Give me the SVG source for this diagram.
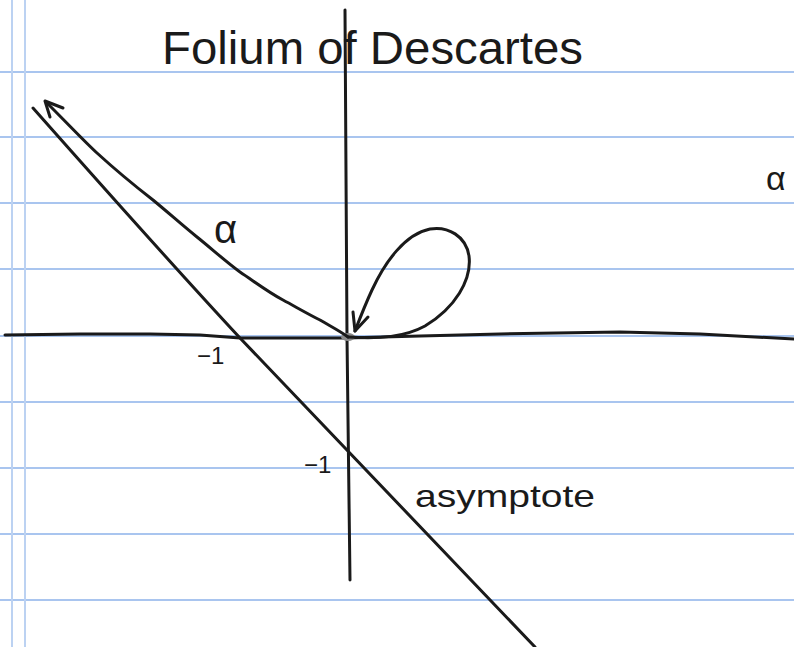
<svg xmlns="http://www.w3.org/2000/svg" width="794" height="647" viewBox="0 0 794 647">
<style>
.rule{stroke:#a9c5ef;stroke-width:2;fill:none}
.margin{stroke:#bcd2f2;stroke-width:2;fill:none}
.ink{stroke:#1a1a1a;stroke-width:3;fill:none;stroke-linecap:round;stroke-linejoin:round}
.txt{font-family:"Liberation Sans",Arial,sans-serif;fill:#1a1a1a}
</style>
<rect width="794" height="647" fill="#ffffff"/>
<g id="paper">
<line class="rule" x1="0" y1="72" x2="794" y2="72"/>
<line class="rule" x1="0" y1="137" x2="794" y2="137"/>
<line class="rule" x1="0" y1="203" x2="794" y2="203"/>
<line class="rule" x1="0" y1="269" x2="794" y2="269"/>
<line class="rule" x1="0" y1="336" x2="794" y2="336"/>
<line class="rule" x1="0" y1="402" x2="794" y2="402"/>
<line class="rule" x1="0" y1="468" x2="794" y2="468"/>
<line class="rule" x1="0" y1="534" x2="794" y2="534"/>
<line class="rule" x1="0" y1="600" x2="794" y2="600"/>
<line class="margin" x1="12" y1="0" x2="12" y2="647"/>
<line class="margin" x1="25" y1="0" x2="25" y2="647"/>
</g>
<g id="axes">
<polyline id="x-axis" class="ink" points="5,335 80,334 150,334 200,335 240,338 346,338 420,336 500,334 620,332 700,334 794,339"/>
<polyline id="y-axis" class="ink" points="345,10 347,337 350,580"/>
<ellipse cx="348" cy="337" rx="7" ry="4" fill="#8a8a8a"/>
</g>
<g id="asymptote-line">
<path class="ink" d="M33,108 C110,195 175,268 240,338 C330,433 430,537 535,647"/>
</g>
<g id="folium-curve">
<path class="ink" d="M46,102 C70,126 85,142 97,153 C120,174 135,186 153,200 C170,214 182,225 197,237 C212,249 225,261 240,272 C255,282 268,292 283,300 C296,307 308,314 320,320 C330,326 340,331 348,337"/>
<path class="ink" d="M348,337 C380,339 405,337 425,326 C455,308 472,280 469,256 C466,236 448,226 430,229 C405,234 385,262 372,290 C365,305 360,318 355,331"/>
</g>
<g id="connectors">
<polyline class="ink" points="63,108 45,101 50,117"/>
<polyline class="ink" points="353,312 355,331 368,317"/>
</g>
<g id="labels">
<text id="title" class="txt" x="162" y="64" font-size="46" textLength="421" lengthAdjust="spacingAndGlyphs">Folium of Descartes</text>
<text id="alpha-left" class="txt" x="214" y="243" font-size="40">α</text>
<text id="alpha-right" class="txt" x="766" y="190" font-size="34">α</text>
<text id="minus1-x" class="txt" x="197" y="364" font-size="24">−1</text>
<text id="minus1-y" class="txt" x="304" y="473" font-size="24">−1</text>
<text id="asymptote-label" class="txt" x="415" y="507" font-size="32" textLength="180" lengthAdjust="spacingAndGlyphs">asymptote</text>
</g>
</svg>
